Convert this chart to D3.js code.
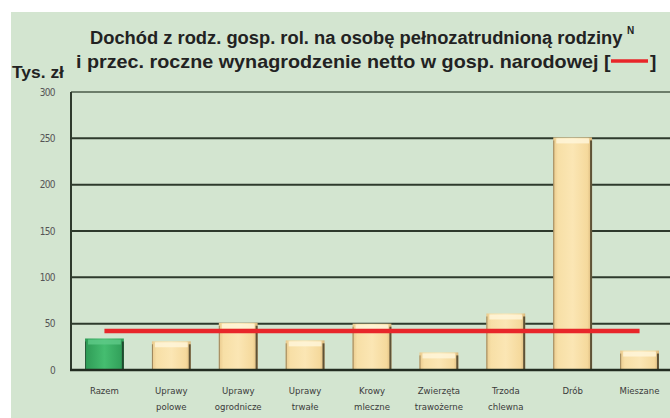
<!DOCTYPE html>
<html><head><meta charset="utf-8">
<script src="https://cdn.jsdelivr.net/npm/d3@7"></script>
<style>
body{margin:0;background:#fff;}
svg{display:block;}
text{font-family:"Liberation Sans Narrow","Arial Narrow","DejaVu Sans Condensed",sans-serif;}
.ttl{font-family:"Liberation Sans",Arial,sans-serif;font-weight:bold;}
</style></head><body>
<svg id="c" width="670" height="418"></svg>
<script>
const categories = [["Razem"],["Uprawy","polowe"],["Uprawy","ogrodnicze"],["Uprawy","trwałe"],["Krowy","mleczne"],["Zwierzęta","trawożerne"],["Trzoda","chlewna"],["Drób"],["Mieszane"]];
const incomeValues = [34, 31, 51, 32, 50, 19, 61, 251, 21];
const wageValue = 42;
const yTicks = [0, 50, 100, 150, 200, 250, 300];

const svg = d3.select("#c");
const W = 670, H = 418;
const m = {left:71, right:-3, top:92, bottom:48};

const defs = svg.append("defs");
const gCream = defs.append("linearGradient").attr("id","cream").attr("x1",0).attr("x2",1).attr("y1",0).attr("y2",0);
gCream.append("stop").attr("offset","0%").attr("stop-color","#e9c98c");
gCream.append("stop").attr("offset","12%").attr("stop-color","#f7dfa6");
gCream.append("stop").attr("offset","50%").attr("stop-color","#fbe6b4");
gCream.append("stop").attr("offset","88%").attr("stop-color","#f5d99c");
gCream.append("stop").attr("offset","100%").attr("stop-color","#d9b67a");
const gGreen = defs.append("linearGradient").attr("id","green").attr("x1",0).attr("x2",1).attr("y1",0).attr("y2",0);
gGreen.append("stop").attr("offset","0%").attr("stop-color","#2e9a55");
gGreen.append("stop").attr("offset","50%").attr("stop-color","#45bd70");
gGreen.append("stop").attr("offset","100%").attr("stop-color","#2f9c57");

// panel
svg.append("rect").attr("x",11).attr("y",12).attr("width",W-11).attr("height",H-12).attr("fill","#d3e5d0");

const x = d3.scaleBand().domain(categories.map((d,i)=>i)).range([m.left, W - m.right]).paddingInner(0.42).paddingOuter(0.21);
const y = d3.scaleLinear().domain([0,300]).range([H - m.bottom, m.top]);

// gridlines
const grid = svg.append("g");
grid.selectAll("line").data(yTicks).join("line")
  .attr("x1", m.left).attr("x2", W).attr("y1", d=>y(d)).attr("y2", d=>y(d))
  .attr("stroke", d=> d===300 ? "#4a5a48" : "#2e3a2c").attr("stroke-width", d=> d===300?1.5:2);

// y axis line
svg.append("line").attr("x1",m.left).attr("x2",m.left).attr("y1",y(300)).attr("y2",y(0)+1).attr("stroke","#2e3a2c").attr("stroke-width",2);

// bars
const bars = svg.append("g");
bars.selectAll("rect.bar").data(incomeValues).join("rect").attr("class","bar")
  .attr("x",(d,i)=>x(i)).attr("width",x.bandwidth())
  .attr("y",d=>y(d)).attr("height",d=>y(0)-y(d))
  .attr("fill",(d,i)=> i===0 ? "url(#green)" : "url(#cream)");
bars.selectAll("rect.hi").data(incomeValues).join("rect").attr("class","hi")
  .attr("x",(d,i)=>x(i)+3).attr("width",x.bandwidth()-6)
  .attr("y",d=>y(d)+1).attr("height",5)
  .attr("fill",(d,i)=> i===0 ? "#5fcb88" : "#fff6dc").attr("opacity",0.8);
bars.selectAll("line.l").data(incomeValues).join("line").attr("class","l")
  .attr("x1",(d,i)=>x(i)+0.5).attr("x2",(d,i)=>x(i)+0.5).attr("y1",d=>y(d)+3).attr("y2",y(0))
  .attr("stroke",(d,i)=> i===0?"#2a5a3a":"#9a845a").attr("stroke-width",1);
bars.selectAll("line.r").data(incomeValues).join("line").attr("class","r")
  .attr("x1",(d,i)=>x(i)+x.bandwidth()-1).attr("x2",(d,i)=>x(i)+x.bandwidth()-1).attr("y1",d=>y(d)+3).attr("y2",y(0))
  .attr("stroke",(d,i)=> i===0?"#1f4a2e":"#5e5236").attr("stroke-width",2);

// baseline
svg.append("line").attr("x1",m.left-1).attr("x2",W).attr("y1",y(0)).attr("y2",y(0)).attr("stroke","#222c20").attr("stroke-width",2.5);

// wage line
svg.append("line")
  .attr("x1", x(0)+x.bandwidth()/2).attr("x2", x(categories.length-1)+x.bandwidth()/2)
  .attr("y1", y(wageValue)).attr("y2", y(wageValue))
  .attr("stroke","#e8262a").attr("stroke-width",4.5);

// y tick labels
const ya = d3.axisLeft(y).tickValues(yTicks).tickSize(0).tickPadding(0);
const yg = svg.append("g").attr("transform",`translate(${m.left-16},0)`).call(ya);
yg.select(".domain").remove();
yg.selectAll("text").attr("font-size",10).attr("fill","#555").attr("font-family","'DejaVu Sans Condensed',sans-serif").style("letter-spacing","-0.6px");

// category labels
const xl = svg.append("g");
categories.forEach((c,i)=>{
  const t = xl.append("text").attr("x", x(i)+x.bandwidth()/2).attr("y", y(0)+24)
    .attr("text-anchor","middle").attr("font-size",9.5).attr("fill","#3a3a3a");
  c.forEach((ln,j)=> t.append("tspan").attr("x", x(i)+x.bandwidth()/2).attr("dy", j===0?0:16).text(ln));
});

// title: condensed by horizontal scaling to a target width
function narrowText(str, x0, yb, size, target){
  const g = svg.append("g");
  const t = g.append("text").attr("class","ttl").attr("x",0).attr("y",0).attr("font-size",size).attr("fill","#222").text(str);
  const w = t.node().getComputedTextLength();
  g.attr("transform",`translate(${x0},${yb}) scale(${target/w},1)`);
  return g;
}
narrowText("Dochód z rodz. gosp. rol. na osobę pełnozatrudnioną rodziny", 90, 44, 19, 533);
svg.append("text").attr("class","ttl").attr("x",627).attr("y",34).attr("font-size",10).attr("fill","#222").text("N");
narrowText("i przec. roczne wynagrodzenie netto w gosp. narodowej [", 76, 68, 19, 535);
svg.append("line").attr("x1",611).attr("x2",648).attr("y1",61).attr("y2",61).attr("stroke","#e8262a").attr("stroke-width",3.5);
svg.append("text").attr("class","ttl").attr("x",650).attr("y",68).attr("font-size",19).attr("fill","#222").text("]");
narrowText("Tys. zł", 12, 78, 16, 52);
</script>
</body></html>
